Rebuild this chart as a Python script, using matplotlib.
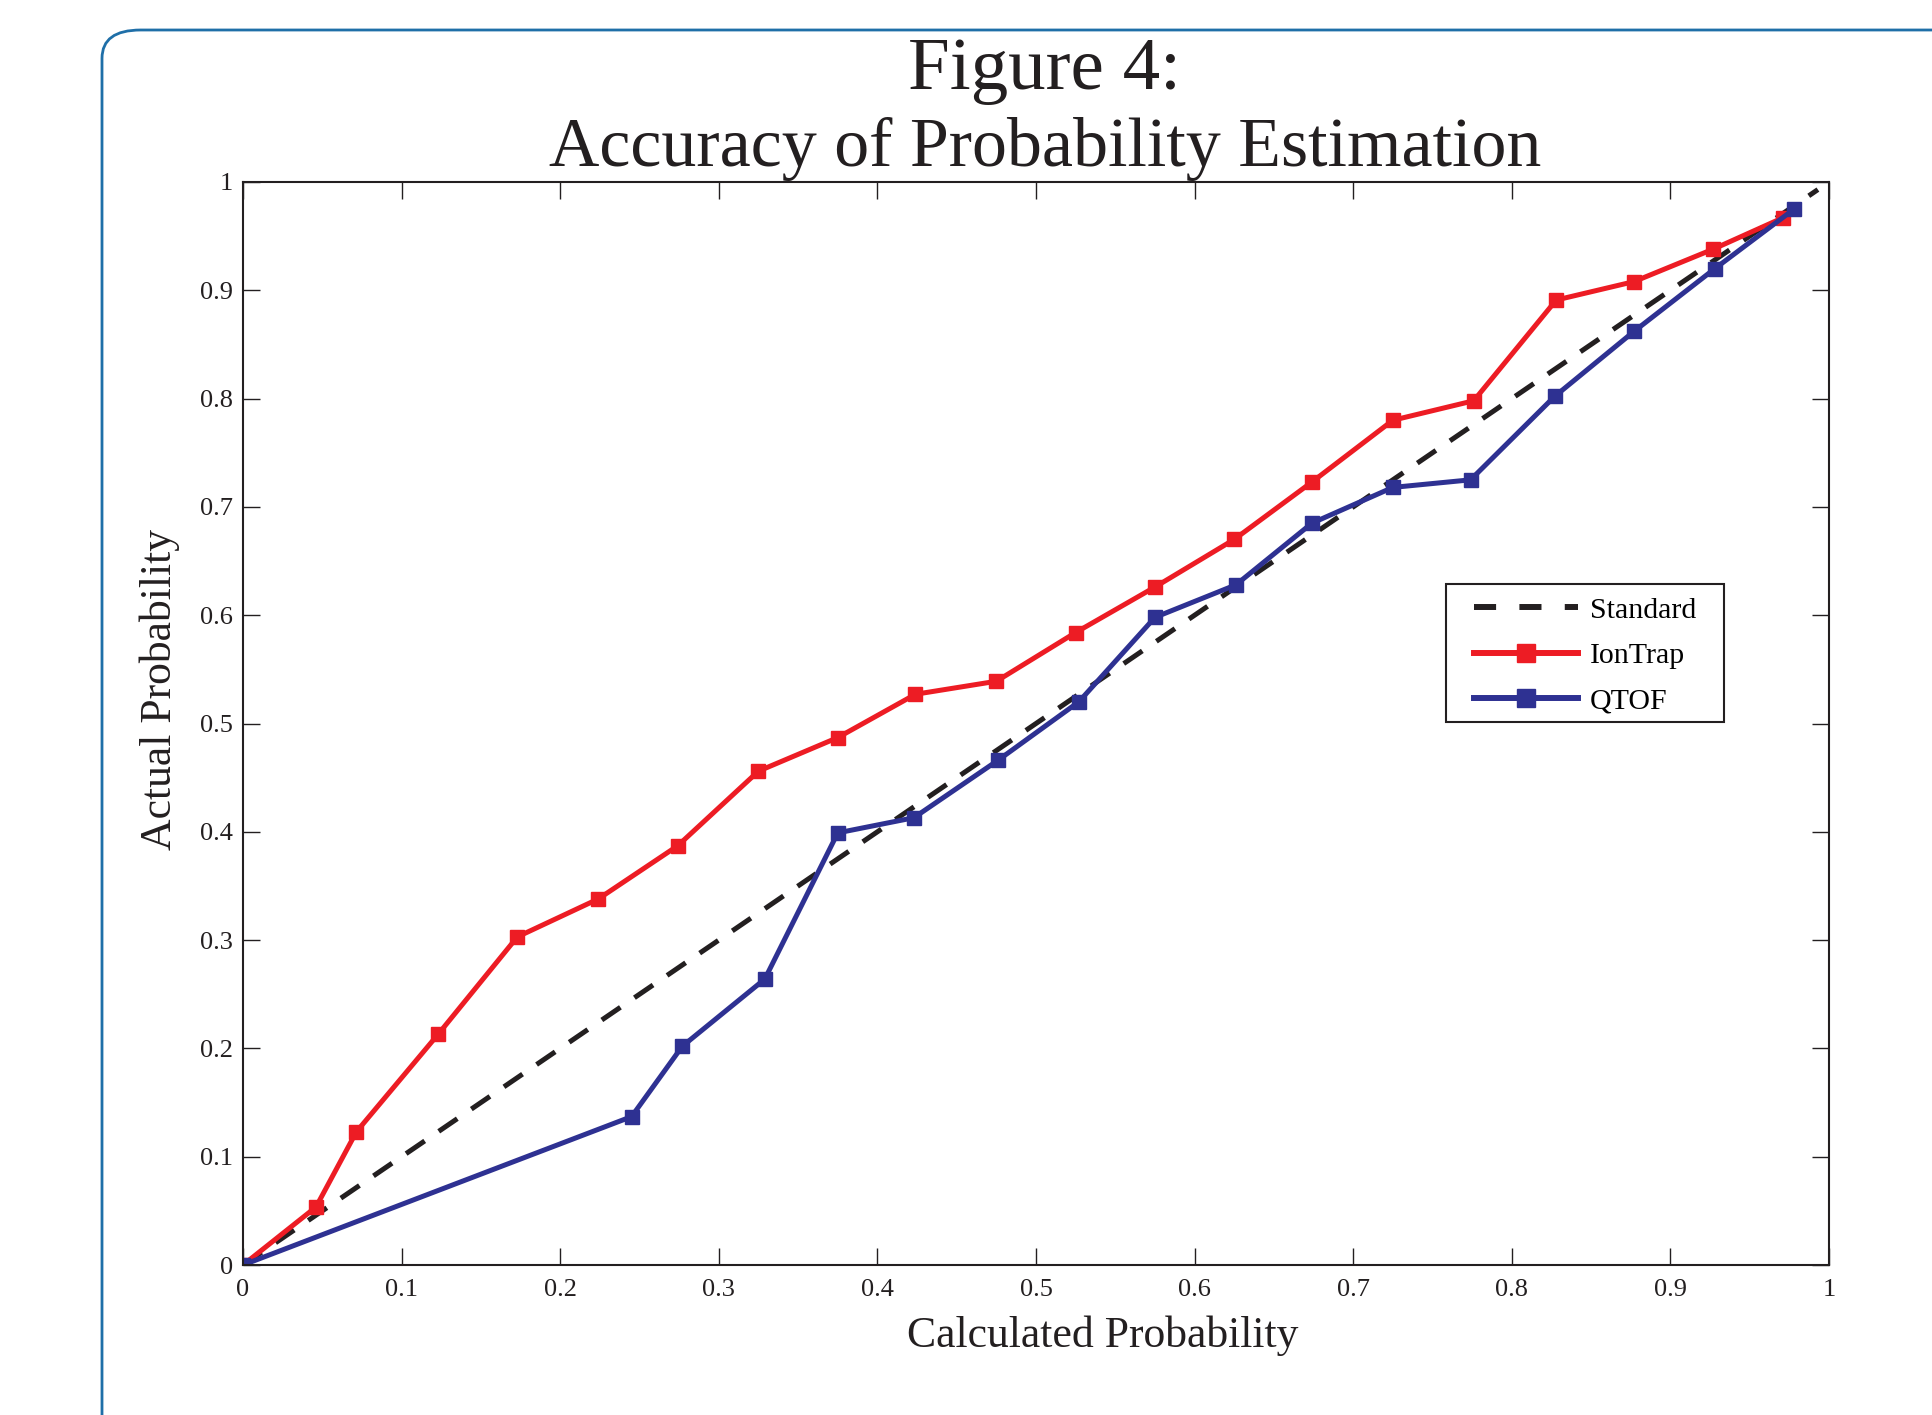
import matplotlib
matplotlib.use("Agg")
import matplotlib.pyplot as plt
from matplotlib.patches import FancyBboxPatch, Rectangle

plt.rcParams['font.family'] = ['Liberation Serif', 'DejaVu Serif']

standard_x = [0.0, 0.993]
standard_y = [0.0, 0.993]

iontrap_x = [0.0, 0.046, 0.0715, 0.123, 0.173, 0.224, 0.274, 0.325, 0.375, 0.424,
             0.475, 0.525, 0.575, 0.625, 0.674, 0.725, 0.776, 0.828, 0.877, 0.927, 0.971]
iontrap_y = [0.0, 0.0535, 0.123, 0.213, 0.303, 0.338, 0.387, 0.456, 0.487, 0.527,
             0.539, 0.584, 0.626, 0.670, 0.723, 0.780, 0.798, 0.891, 0.908, 0.938, 0.967]

qtof_x = [0.0, 0.245, 0.277, 0.329, 0.375, 0.423, 0.476, 0.527, 0.575, 0.626,
          0.674, 0.725, 0.774, 0.827, 0.877, 0.928, 0.978]
qtof_y = [0.0, 0.137, 0.202, 0.264, 0.399, 0.413, 0.466, 0.520, 0.598, 0.628,
          0.685, 0.718, 0.725, 0.802, 0.862, 0.920, 0.975]

ticks = [0, 0.1, 0.2, 0.3, 0.4, 0.5, 0.6, 0.7, 0.8, 0.9, 1]
tick_labels = ['0', '0.1', '0.2', '0.3', '0.4', '0.5', '0.6', '0.7', '0.8', '0.9', '1']

RED = '#ed1c24'
BLUE = '#2e3192'
BLACK = '#231f20'

W, H = 1933, 1415
fig = plt.figure(figsize=(W / 100, H / 100), dpi=100)

# rounded frame
frame = FancyBboxPatch((102 / W, -0.05), 1.2, (1415 - 30) / H + 0.05,
                       boxstyle="round,pad=0,rounding_size=0.02",
                       transform=fig.transFigure, fill=False,
                       edgecolor='#1f6fa8', linewidth=2.0, clip_on=False)
fig.patches.append(frame)

ax = fig.add_axes([243 / W, 1 - 1265 / H, (1829 - 243) / W, (1265 - 182) / H])

ax.plot(standard_x, standard_y, color=BLACK, linestyle=(0, (4.5, 3.4)), linewidth=3.6,
        label='Standard')
ax.plot(iontrap_x, iontrap_y, color=RED, linewidth=3.6, marker='s', markersize=10,
        label='IonTrap')
ax.plot(qtof_x, qtof_y, color=BLUE, linewidth=3.6, marker='s', markersize=10,
        label='QTOF')

ax.set_xlim(0, 1)
ax.set_ylim(0, 1)
ax.set_xticks(ticks)
ax.set_xticklabels(tick_labels)
ax.set_yticks(ticks)
ax.set_yticklabels(tick_labels)
ax.tick_params(direction='in', length=12, width=1.0, top=True, right=True,
               labelsize=19, colors='#231f20', pad=7)
ax.tick_params(axis='x', pad=10)
for s in ax.spines.values():
    s.set_linewidth(1.5)
    s.set_color('#231f20')

ax.set_xlabel('Calculated Probability', fontsize=31.5, color='#231f20')
ax.set_ylabel('Actual Probability', fontsize=31.5, color='#231f20')
ax.xaxis.set_label_coords(0.542, -0.047)
ax.yaxis.set_label_coords(-0.040, 0.531)

# legend box drawn separately
ax.add_patch(Rectangle((0.7585, 0.501), 0.934 - 0.7585, 0.629 - 0.501,
                       transform=ax.transAxes, facecolor='white',
                       edgecolor='#231f20', linewidth=1.5, zorder=4))
leg = ax.legend(loc='upper left', bbox_to_anchor=(0.776, 0.617), fontsize=21.5,
                handlelength=3.5, handletextpad=0.4, numpoints=1, frameon=False,
                borderpad=0, labelspacing=0.62, borderaxespad=0)
leg.set_zorder(5)
for h in leg.legend_handles:
    h.set_linewidth(4.3)
    h.set_markersize(13)
leg.legend_handles[0].set_dashes((3.7, 3.9))

cx = (243 + 1829) / 2 / W + 9 / W
fig.text(cx, 1 - 89 / H, 'Figure 4:', ha='center', va='baseline', fontsize=54,
         color='#231f20')
fig.text(cx, 1 - 166 / H, 'Accuracy of Probability Estimation', ha='center',
         va='baseline', fontsize=50.3, color='#231f20')

fig.savefig('out.png', dpi=100)
